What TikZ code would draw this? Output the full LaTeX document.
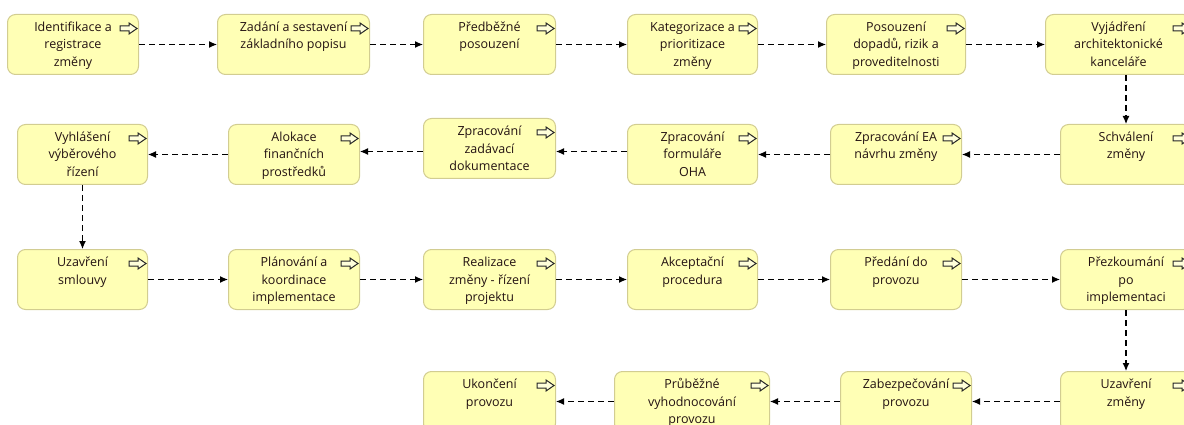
\documentclass[tikz,border=0pt]{standalone}
\usepackage{fontspec}
\setmainfont{Open Sans}
\usetikzlibrary{arrows.meta}
\definecolor{boxfill}{RGB}{255,255,181}
\definecolor{boxline}{RGB}{210,205,145}
\definecolor{txtcol}{RGB}{35,18,18}
\tikzset{
  box/.style={draw=boxline, fill=boxfill, rounded corners=8pt, minimum height=60pt, inner sep=0pt, line width=1pt},
  txt/.style={inner sep=0pt, text=txtcol, font=\fontsize{12.5}{17.5}\selectfont},
  icon/.style={draw=black!85, fill=boxfill!50!white, line width=1pt, line join=miter},
  flow/.style={draw=black, dash pattern=on 6pt off 4pt, line width=1.1pt, -{Latex[length=8pt,width=7pt]}}
}
\newcommand\proc[5]{%
  \node[box, minimum width=#4pt, anchor=north west] (#1) at (#2,#3) {};
  \node[txt, anchor=base] (#1t) at ([yshift=-17.5pt]#1.north) {\parbox[t]{#4pt}{\centering #5}};
  \draw[icon] ([xshift=-19pt,yshift=-14.5pt]#1.north east) ++(0,-2.5) -- ++(9,0) -- ++(0,-3) -- ++(8,5.5) -- ++(-8,5.5) -- ++(0,-3) -- ++(-9,0) -- cycle;
}
\begin{document}
\begin{tikzpicture}[x=1pt, y=-1pt]
\useasboundingbox (0,0) rectangle (1184,425);
% row 1
\proc{A1}{7}{14}{131}{Identifikace a\\registrace\\změny}
\proc{A2}{217}{14}{152}{Zadání a sestavení\\základního popisu}
\proc{A3}{423}{14}{132}{Předběžné\\posouzení}
\proc{A4}{627}{14}{130}{Kategorizace a\\prioritizace\\změny}
\proc{A5}{826}{14}{139}{Posouzení\\dopadů, rizik a\\proveditelnosti}
\proc{A6}{1045}{14}{146}{Vyjádření\\architektonické\\kanceláře}
% row 2
\proc{B6}{1060}{124}{131}{Schválení\\změny}
\proc{B5}{830}{124}{131}{Zpracování EA\\návrhu změny}
\proc{B4}{627}{124}{130}{Zpracování\\formuláře\\OHA}
\proc{B3}{423}{118}{132}{Zpracování\\zadávací\\dokumentace}
\proc{B2}{228}{124}{131}{Alokace\\finančních\\prostředků}
\proc{B1}{17}{124}{130}{Vyhlášení\\výběrového\\řízení}
% row 3
\proc{C1}{17}{249}{130}{Uzavření\\smlouvy}
\proc{C2}{228}{249}{131}{Plánování a\\koordinace\\implementace}
\proc{C3}{423}{249}{132}{Realizace\\změny - řízení\\projektu}
\proc{C4}{627}{249}{130}{Akceptační\\procedura}
\proc{C5}{830}{249}{131}{Předání do\\provozu}
\proc{C6}{1060}{249}{131}{Přezkoumání\\po\\implementaci}
% row 4
\proc{D6}{1060}{371}{131}{Uzavření\\změny}
\proc{D5}{840}{371}{131}{Zabezpečování\\provozu}
\proc{D4}{614}{371}{155}{Průběžné\\vyhodnocování\\provozu}
\proc{D3}{423}{371}{132}{Ukončení\\provozu}
% connectors
\draw[flow] (A1.east) -- (A2.west);
\draw[flow] (A2.east) -- (A3.west);
\draw[flow] (A3.east) -- (A4.west);
\draw[flow] (A4.east) -- (A5.west);
\draw[flow] (A5.east) -- (A6.west);
\draw[flow] (A6.south -| B6.north) -- (B6.north);
\draw[flow] (B6.west) -- (B5.east);
\draw[flow] (B5.west) -- (B4.east);
\coordinate (m3) at ([yshift=-3pt]B3.center);
\draw[flow] (B4.west |- m3) -- (B3.east |- m3);
\draw[flow] (B3.west |- m3) -- (B2.east |- m3);
\draw[flow] (B2.west) -- (B1.east);
\draw[flow] (B1.south) -- (C1.north);
\draw[flow] (C1.east) -- (C2.west);
\draw[flow] (C2.east) -- (C3.west);
\draw[flow] (C3.east) -- (C4.west);
\draw[flow] (C4.east) -- (C5.west);
\draw[flow] (C5.east) -- (C6.west);
\draw[flow] (C6.south) -- (D6.north);
\draw[flow] (D6.west) -- (D5.east);
\draw[flow] (D5.west) -- (D4.east);
\draw[flow] (D4.west) -- (D3.east);
\end{tikzpicture}
\end{document}
